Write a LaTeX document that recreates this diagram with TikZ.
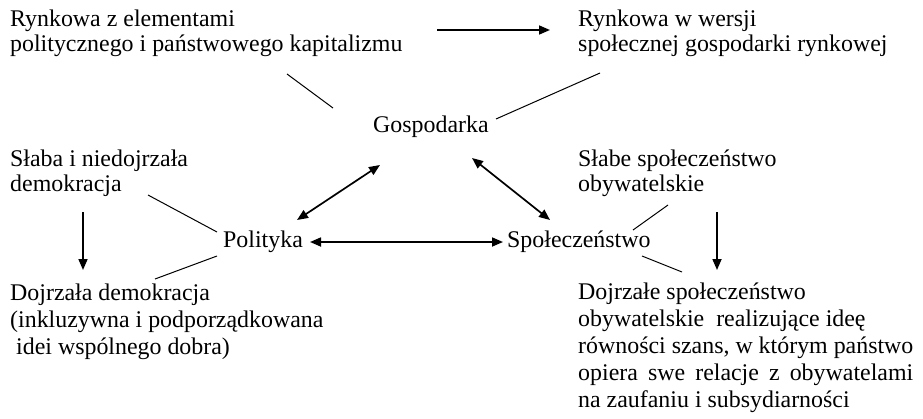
\documentclass[tikz,border=0pt]{standalone}
\usepackage{fontspec}
\setmainfont{Liberation Serif}
\usetikzlibrary{arrows.meta,calc}

\newcommand\lblfont{\fontsize{23.9}{27}\selectfont}
\newcommand\lblfontb{\fontsize{23.9}{24.5}\selectfont}

\tikzset{
  lbl/.style={font=\lblfont, inner sep=0pt, align=left, anchor=base west},
  lbltight/.style={lbl, font=\lblfontb},
  arr/.style={-{Triangle[length=11pt, width=9pt]}, line width=1.7pt},
  darr/.style={{Triangle[length=11pt, width=9pt]}-{Triangle[length=11pt, width=9pt]}, line width=1.7pt},
  link/.style={line width=1pt}
}

\begin{document}
\begin{tikzpicture}[x=1pt, y=-1pt]
\useasboundingbox (0,0) rectangle (923,418);

% economy (base = last line)
\node[lbltight] (rynk) at (10,51) {Rynkowa z elementami\\politycznego i państwowego kapitalizmu};
\node[lbltight] (rynkw) at (578,51) {Rynkowa w wersji\\społecznej gospodarki rynkowej};
\node[lbl] (gosp) at (373,132) {Gospodarka};

% politics and society
\node[lbltight] (slaba) at (10,191) {Słaba i niedojrzała\\demokracja};
\node[lbltight] (slabe) at (578,191) {Słabe społeczeństwo\\obywatelskie};
\node[lbl] (pol) at (223,247) {Polityka};
\node[lbl] (spol) at (507,247) {Społeczeństwo};
\node[lbl] (dojrz) at (10,354) {Dojrzała demokracja\\(inkluzywna i podporządkowana\\\hspace*{6pt}idei wspólnego dobra)};
\node[lbl] (dojrzale) at (578,407) {Dojrzałe społeczeństwo\\obywatelskie~ realizujące ideę\\równości szans, w którym państwo\\\hbox to 335pt{opiera\hfill swe\hfill relacje\hfill z\hfill obywatelami}\\na zaufaniu i subsydiarności};

% arrows
\draw[arr] ($(rynk.base west)+(427,-21)$) -- ($(rynkw.base west)+(-28,-21)$);
\draw[darr] ($(pol.base west)+(74,-27)$) -- ($(gosp.base west)+(7,33)$);
\draw[darr] ($(gosp.base west)+(99,26)$) -- ($(spol.base west)+(43,-27)$);
\draw[darr] ($(pol.base west)+(87,-5)$) -- ($(spol.base west)+(-4,-5)$);
\draw[arr] ($(slaba.base west)+(73,21)$) -- ($(dojrz.base west)+(73,-84)$);
\draw[arr] ($(slabe.base west)+(139,21)$) -- ($(dojrzale.base west)+(139,-137)$);

% plain links
\draw[link] ($(rynk.base west)+(277,23)$) -- ($(gosp.base west)+(-40,-24)$);
\draw[link] ($(gosp.base west)+(123,-13)$) -- ($(rynkw.base west)+(22,22)$);
\draw[link] ($(slaba.base west)+(138,4)$) -- ($(pol.base west)+(-6,-15)$);
\draw[link] ($(pol.base west)+(-6,9)$) -- ($(dojrz.base west)+(145,-75)$);
\draw[link] ($(slabe.base west)+(90,14)$) -- ($(spol.base west)+(126,-17)$);
\draw[link] ($(spol.base west)+(135,9)$) -- ($(dojrzale.base west)+(104,-135)$);
\end{tikzpicture}
\end{document}
